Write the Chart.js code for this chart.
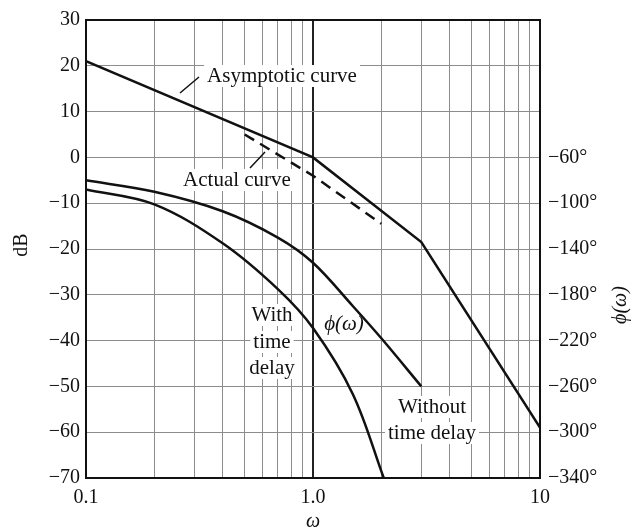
<!DOCTYPE html>
<html>
<head>
<meta charset="utf-8">
<script src="https://cdn.jsdelivr.net/npm/chart.js@4/dist/chart.umd.min.js"></script>
<style>
  html, body { margin: 0; padding: 0; background: #fff; }
  canvas { display: block; }
</style>
</head>
<body>
<canvas id="bode" width="634" height="532"></canvas>
<script>
// magnitude (dB) curves
const omegaAsym = [0.1, 1, 3, 10];
const dbAsym = [21, 0, -18.5, -59];
const omegaActual = [0.5, 1, 2];
const dbActual = [5, -4, -14.5];
// phase (deg) curves
const omegaPhase = [0.1, 0.2, 0.4, 0.7, 1, 1.5, 2, 3];
const phaseNoDelay = [-80, -90, -107, -130, -152, -190, -218, -260];
const omegaDelay = [0.1, 0.2, 0.4, 0.7, 1, 1.5, 2.05];
const phaseDelay = [-88, -101, -135, -175, -209, -267, -340];
// axes
const omegaGrid = [0.1, 0.2, 0.3, 0.4, 0.5, 0.6, 0.7, 0.8, 0.9, 1, 2, 3, 4, 5, 6, 7, 8, 9, 10];
const omegaLabels = {0.1: '0.1', 1: '1.0', 10: '10'};
const dbTicks = [30, 20, 10, 0, -10, -20, -30, -40, -50, -60, -70];
const phaseTicks = [-60, -100, -140, -180, -220, -260, -300, -340];

const FONT = '"Liberation Serif", "Times New Roman", serif';
const minus = v => String(v).replace('-', '\u2212');
const pts = (xs, ys) => xs.map((x, i) => ({x: x, y: ys[i]}));

const notes = {
  id: 'notes',
  beforeDatasetsDraw(chart) {
    const c = chart.ctx;
    const base = '21px ' + FONT;
    c.save();
    c.font = base;
    c.textAlign = 'center';
    c.textBaseline = 'middle';
    const label = (txt, x, y, font) => {
      c.font = font || base;
      const w = c.measureText(txt).width;
      c.fillStyle = '#fff';
      c.fillRect(x - w / 2 - 3, y - 11, w + 6, 22);
      c.fillStyle = '#111';
      c.fillText(txt, x, y);
    };
    label('Asymptotic curve', 282, 76);
    label('Actual curve', 237, 180);
    label('With', 272, 315);
    label('time', 272, 342);
    label('delay', 272, 368);
    label('\u03d5(\u03c9)', 344, 324, 'italic 21px ' + FONT);
    label('Without', 432, 407);
    label('time delay', 432, 433);
    // leader lines
    c.strokeStyle = '#111';
    c.lineWidth = 1.5;
    c.beginPath();
    c.moveTo(180, 93); c.lineTo(199, 77);
    c.moveTo(250, 168); c.lineTo(265, 152);
    c.stroke();
    c.restore();
  },
  afterDraw(chart) {
    const c = chart.ctx, a = chart.chartArea;
    c.save();
    c.strokeStyle = '#111';
    c.lineWidth = 2;
    c.strokeRect(a.left, a.top, a.right - a.left, a.bottom - a.top);
    c.fillStyle = '#111';
    c.font = '20px ' + FONT;
    c.textAlign = 'center';
    c.textBaseline = 'middle';
    c.translate(22, 245); c.rotate(-Math.PI / 2); c.fillText('dB', 0, 0);
    c.setTransform(1, 0, 0, 1, 0, 0);
    c.font = 'italic 20px ' + FONT;
    c.translate(621, 305); c.rotate(-Math.PI / 2); c.fillText('\u03d5(\u03c9)', 0, 0);
    c.setTransform(1, 0, 0, 1, 0, 0);
    c.fillText('\u03c9', 313, 522);
    c.restore();
  }
};

new Chart(document.getElementById('bode'), {
  type: 'line',
  data: {
    datasets: [
      { label: 'Asymptotic curve', data: pts(omegaAsym, dbAsym), yAxisID: 'y', tension: 0 },
      { label: 'Actual curve', data: pts(omegaActual, dbActual), yAxisID: 'y', tension: 0, borderDash: [11, 7] },
      { label: 'Without time delay', data: pts(omegaPhase, phaseNoDelay), yAxisID: 'y1', tension: 0.35 },
      { label: 'With time delay', data: pts(omegaDelay, phaseDelay), yAxisID: 'y1', tension: 0.35 }
    ]
  },
  options: {
    responsive: false,
    animation: false,
    events: [],
    layout: { padding: { top: 16, left: 0, right: 0, bottom: 0 } },
    elements: {
      point: { radius: 0 },
      line: { borderColor: '#111', borderWidth: 2.5, fill: false }
    },
    plugins: { legend: { display: false }, tooltip: { enabled: false } },
    scales: {
      x: {
        type: 'logarithmic', min: 0.1, max: 10,
        afterBuildTicks: s => { s.ticks = omegaGrid.map(v => ({value: v})); },
        afterFit: s => { s.height = 54; },
        grid: {
          drawTicks: false,
          color: ctx => (ctx.tick && ctx.tick.value === 1) ? '#222' : '#8c8c8c',
          lineWidth: ctx => (ctx.tick && ctx.tick.value === 1) ? 2 : 1
        },
        border: { display: false },
        ticks: {
          autoSkip: false, maxRotation: 0, padding: 8, color: '#111',
          font: { family: FONT, size: 20 },
          callback: v => omegaLabels[v] || ''
        }
      },
      y: {
        position: 'left', min: -70, max: 30,
        afterBuildTicks: s => { s.ticks = dbTicks.map(v => ({value: v})); },
        afterFit: s => { s.width = 86; },
        grid: { drawTicks: false, color: '#8c8c8c', lineWidth: 1 },
        border: { display: false },
        ticks: { padding: 6, color: '#111', font: { family: FONT, size: 20 }, callback: v => minus(v) }
      },
      y1: {
        position: 'right', min: -340, max: 60,
        afterBuildTicks: s => { s.ticks = phaseTicks.map(v => ({value: v})); },
        afterFit: s => { s.width = 94; },
        grid: { display: false, drawTicks: false },
        border: { display: false },
        ticks: { padding: 8, color: '#111', font: { family: FONT, size: 20 }, callback: v => minus(v) + '\u00b0' }
      }
    }
  },
  plugins: [notes]
});
</script>
</body>
</html>
